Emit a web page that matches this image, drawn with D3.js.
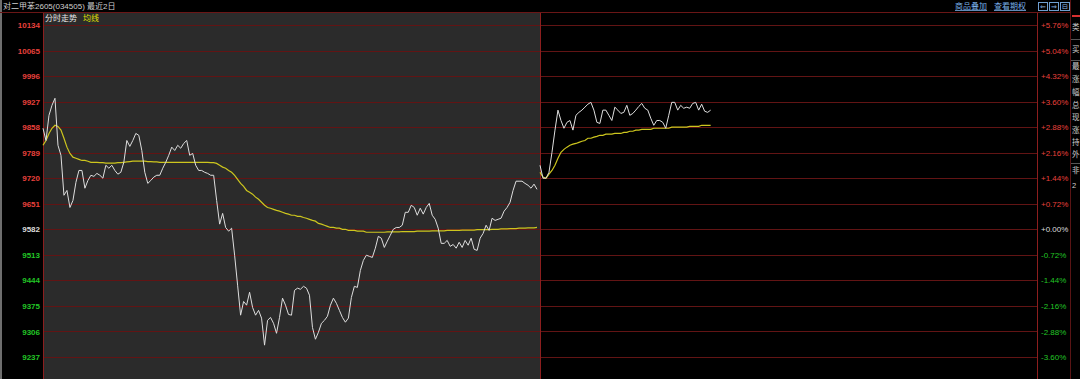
<!DOCTYPE html>
<html lang="zh">
<head>
    <meta charset="UTF-8">
    <title>对二甲苯2605 分时走势</title>
    <script src="https://d3js.org/d3.v7.min.js"></script>
    <style>
        html, body { margin: 0; padding: 0; background: #000; overflow: hidden; }
        svg { display: block; }
    </style>
</head>
<body>
</body>
<script>
    // 昨结算价 / 基准
    var basePrice = 9582;

    // 纵轴刻度 (价格) 和右侧百分比
    var priceTicks = [10134, 10065, 9996, 9927, 9858, 9789, 9720, 9651, 9582, 9513, 9444, 9375, 9306, 9237];
    var pctLabels = ['+5.76%', '+5.04%', '+4.32%', '+3.60%', '+2.88%', '+2.16%', '+1.44%', '+0.72%', '+0.00%',
        '-0.72%', '-1.44%', '-2.16%', '-2.88%', '-3.60%'];

    // 每日的分时点数
    var slotsPerDay = 166;

    // 第一日 价格
    var day1Price = [
        9855, 9822, 9890, 9917, 9936, 9809, 9782, 9674, 9687, 9641,
        9660, 9709, 9741, 9741, 9693, 9714, 9728, 9725, 9733, 9728,
        9720, 9755, 9747, 9755, 9741, 9731, 9736, 9763, 9822, 9806,
        9822, 9841, 9836, 9795, 9736, 9706, 9714, 9723, 9728, 9728,
        9747, 9763, 9782, 9804, 9795, 9809, 9801, 9814, 9822, 9782,
        9787, 9755, 9741, 9741, 9736, 9733, 9728, 9728, 9660, 9596,
        9625, 9587, 9577, 9585, 9512, 9431, 9350, 9387, 9377, 9412,
        9371, 9350, 9363, 9342, 9269, 9336, 9344, 9328, 9301, 9344,
        9396, 9377, 9352, 9350, 9417, 9423, 9420, 9428, 9423, 9404,
        9317, 9285, 9304, 9328, 9336, 9347, 9377, 9396, 9382, 9363,
        9344, 9331, 9342, 9398, 9428, 9425, 9471, 9498, 9512, 9509,
        9506, 9531, 9563, 9558, 9533, 9550, 9566, 9582, 9587, 9587,
        9593, 9628, 9628, 9647, 9641, 9620, 9639, 9623, 9641, 9652,
        9620, 9609, 9585, 9544, 9544, 9552, 9536, 9541, 9531, 9547,
        9533, 9552, 9539, 9558, 9528, 9525, 9558, 9571, 9593, 9579,
        9612, 9606, 9609, 9612, 9631, 9641, 9655, 9687, 9712, 9712,
        9712, 9706, 9701, 9693, 9704, 9690
    ];

    // 第一日 均线
    var day1Avg = [
        9809, 9822, 9841, 9855, 9863, 9860, 9850, 9828, 9804, 9787,
        9777, 9774, 9771, 9768, 9768, 9766, 9763, 9763, 9763, 9762,
        9762, 9761, 9761, 9761, 9761, 9762, 9762, 9763, 9764, 9765,
        9766, 9766, 9766, 9766, 9766, 9765, 9765, 9764, 9764, 9763,
        9763, 9763, 9763, 9763, 9763, 9763, 9763, 9763, 9763, 9763,
        9763, 9763, 9763, 9763, 9763, 9763, 9762, 9762,
        9760, 9755, 9750, 9747, 9741, 9736, 9728, 9717, 9706, 9698,
        9687, 9682, 9677, 9669, 9663, 9655, 9647, 9641, 9639, 9636,
        9633, 9631, 9628, 9625, 9623, 9620, 9620, 9617, 9617, 9614,
        9612, 9609, 9606, 9604, 9598, 9596, 9593, 9590, 9587, 9587,
        9585, 9585, 9582, 9582, 9579, 9579, 9579, 9577, 9577, 9577,
        9574, 9574, 9574, 9574, 9574, 9574, 9574, 9575, 9575, 9575,
        9575, 9575, 9576, 9576, 9576, 9576, 9576, 9577, 9577, 9577,
        9577, 9577, 9578, 9578, 9578, 9578, 9578, 9579, 9579, 9579,
        9579, 9579, 9580, 9580, 9580, 9580, 9580, 9581, 9581, 9581,
        9581, 9581, 9582, 9582, 9582, 9583, 9583, 9583, 9584, 9584,
        9584, 9585, 9585, 9585, 9586, 9586, 9586, 9587
    ];

    // 第二日 价格
    var day2Price = [
        9755, 9720, 9720, 9736, 9790, 9850, 9904, 9876, 9855, 9871,
        9876, 9850, 9890, 9898, 9904, 9912, 9920, 9925, 9904, 9871,
        9868, 9904, 9904, 9890, 9876, 9912, 9904, 9895, 9898, 9917,
        9890, 9895, 9904, 9914, 9922, 9909, 9904, 9882, 9863, 9876,
        9876, 9871, 9855, 9890, 9925, 9925, 9904, 9917, 9909, 9912,
        9909, 9922, 9925, 9904, 9920, 9901, 9898, 9904
    ];

    // 第二日 均线
    var day2Avg = [
        9736, 9723, 9720, 9731, 9741, 9755, 9774, 9790, 9798, 9804,
        9809, 9812, 9814, 9817, 9820, 9822, 9828, 9828, 9831, 9833,
        9836, 9836, 9839, 9839, 9839, 9841, 9841, 9841, 9844, 9844,
        9847, 9847, 9850, 9850, 9852, 9852, 9852, 9852, 9855, 9855,
        9855, 9855, 9855, 9855, 9858, 9858, 9858, 9858, 9858, 9858,
        9860, 9860, 9860, 9860, 9863, 9863, 9863, 9863
    ];

    // 右侧信息栏 (窄栏里的文字)
    var sideChars = ['类', '买', '最', '涨', '幅', '总', '现', '涨', '持', '外', '非', '2'];
    var sideCharY = [28, 50, 67, 80, 93, 106, 118, 131, 143, 155, 171, 186];

    var width = 1080
    var height = 379
    var plotLeft = 43, plotRight = 1037, headerY = 12;
    var font = '"Liberation Sans", "Noto Sans CJK SC", sans-serif';

    var svg = d3.select('body')
        .append('svg')
        .attr('width', width)
        .attr('height', height)
        .style('background', '#000');

    var x = d3.scaleLinear().domain([0, slotsPerDay * 2]).range([plotLeft, plotRight]);
    var y = d3.scaleLinear().domain([9237, 10134]).range([357, 25]);

    function tickColor(v) {
        if (v > basePrice) return '#e8403c';
        if (v < basePrice) return '#22c626';
        return '#dcdcdc';
    }

    // 左边灰条
    svg.append('rect').attr('x', 0).attr('y', 0).attr('width', 2).attr('height', height).attr('fill', '#6e6e6e');

    // 第一日灰底
    svg.append('rect')
        .attr('x', x(0))
        .attr('y', headerY + 1)
        .attr('width', x(slotsPerDay) - x(0))
        .attr('height', height - headerY)
        .attr('fill', '#2b2b2b');

    // 横网格
    svg.append('g').selectAll('line')
        .data(priceTicks)
        .enter().append('line')
        .attr('x1', plotLeft)
        .attr('x2', plotRight)
        .attr('y1', d => Math.round(y(d)) + 0.5)
        .attr('y2', d => Math.round(y(d)) + 0.5)
        .attr('stroke', '#621414')
        .attr('stroke-width', 1);

    // 竖线
    [plotLeft, x(slotsPerDay), plotRight].forEach(function (vx) {
        svg.append('line')
            .attr('x1', Math.round(vx) + 0.5).attr('x2', Math.round(vx) + 0.5)
            .attr('y1', headerY).attr('y2', height)
            .attr('stroke', '#8c1e1e');
    });
    svg.append('line')
        .attr('x1', 1070.5).attr('x2', 1070.5).attr('y1', 0).attr('y2', height)
        .attr('stroke', '#5a1414');

    // 顶部横线
    svg.append('line')
        .attr('x1', 0).attr('x2', 1070).attr('y1', headerY + 0.5).attr('y2', headerY + 0.5)
        .attr('stroke', '#6a1616');

    // 标题
    svg.append('text')
        .attr('x', 3).attr('y', 9)
        .attr('fill', '#cfcfcf')
        .style('font-family', font)
        .style('font-size', '8px')
        .text('对二甲苯2605(034505)  最近2日');

    svg.append('text')
        .attr('x', 45).attr('y', 21)
        .attr('fill', '#e6e6e6')
        .style('font-family', font)
        .style('font-size', '8px')
        .text('分时走势');
    svg.append('text')
        .attr('x', 83).attr('y', 21)
        .attr('fill', '#e0e000')
        .style('font-family', font)
        .style('font-size', '8px')
        .text('均线');

    // 右上按钮
    svg.append('text')
        .attr('x', 955).attr('y', 9)
        .attr('fill', '#78aee6')
        .attr('text-decoration', 'underline')
        .style('font-family', font)
        .style('font-size', '8px')
        .text('商品叠加');
    svg.append('text')
        .attr('x', 994).attr('y', 9)
        .attr('fill', '#78aee6')
        .attr('text-decoration', 'underline')
        .style('font-family', font)
        .style('font-size', '8px')
        .text('查看期权');
    [1038, 1049, 1060].forEach(function (bx, i) {
        svg.append('rect')
            .attr('x', bx + 0.5).attr('y', 2.5).attr('width', 9).attr('height', 8)
            .attr('fill', 'none').attr('stroke', '#6f9fd0');
        svg.append('text')
            .attr('x', bx + 5).attr('y', 9)
            .attr('text-anchor', 'middle')
            .attr('fill', '#8fbbe8')
            .style('font-family', '"DejaVu Sans", sans-serif')
            .style('font-size', '7px')
            .text(['⇐', '⇒', '⊟'][i]);
    });

    // 左轴
    var leftAxis = svg.append('g')
        .attr('transform', 'translate(' + (plotLeft - 1) + ',0)')
        .call(d3.axisLeft(y).tickValues(priceTicks).tickSize(0).tickPadding(2).tickFormat(d3.format('d')));
    leftAxis.select('.domain').remove();
    leftAxis.selectAll('text')
        .attr('fill', d => tickColor(d))
        .style('font-family', font)
        .style('font-size', '8px')
        .style('font-weight', 'bold');

    // 右轴
    var rightAxis = svg.append('g')
        .attr('transform', 'translate(' + (plotRight + 1) + ',0)')
        .call(d3.axisRight(y).tickValues(priceTicks).tickSize(0).tickPadding(3)
            .tickFormat((d, i) => pctLabels[i]));
    rightAxis.select('.domain').remove();
    rightAxis.selectAll('text')
        .attr('fill', d => tickColor(d))
        .style('font-family', font)
        .style('font-size', '8px');

    // 分时线
    var line = d3.line()
        .x(d => x(d.i))
        .y(d => y(d.v));

    function series(arr, offset) {
        return arr.map((v, i) => ({ i: i + offset, v: v }));
    }

    [[day1Avg, 0], [day2Avg, slotsPerDay]].forEach(function (s) {
        svg.append('path')
            .datum(series(s[0], s[1]))
            .attr('d', line)
            .attr('fill', 'none')
            .attr('stroke', '#cdc61e')
            .attr('stroke-width', 1.2);
    });
    [[day1Price, 0], [day2Price, slotsPerDay]].forEach(function (s) {
        svg.append('path')
            .datum(series(s[0], s[1]))
            .attr('d', line)
            .attr('fill', 'none')
            .attr('stroke', '#dedede')
            .attr('stroke-width', 1);
    });

    // 右侧信息栏
    svg.append('rect').attr('x', 1072).attr('y', 15).attr('width', 8).attr('height', 2).attr('fill', '#d83030');
    [39, 60, 163].forEach(function (ly) {
        svg.append('line')
            .attr('x1', 1071).attr('x2', 1080).attr('y1', ly + 0.5).attr('y2', ly + 0.5)
            .attr('stroke', '#555');
    });
    svg.append('g').selectAll('text')
        .data(sideChars)
        .enter().append('text')
        .attr('x', 1072)
        .attr('y', (d, i) => sideCharY[i])
        .attr('dominant-baseline', 'middle')
        .attr('fill', '#cfcfcf')
        .style('font-family', font)
        .style('font-size', '7.5px')
        .text(d => d);
</script>
</html>
